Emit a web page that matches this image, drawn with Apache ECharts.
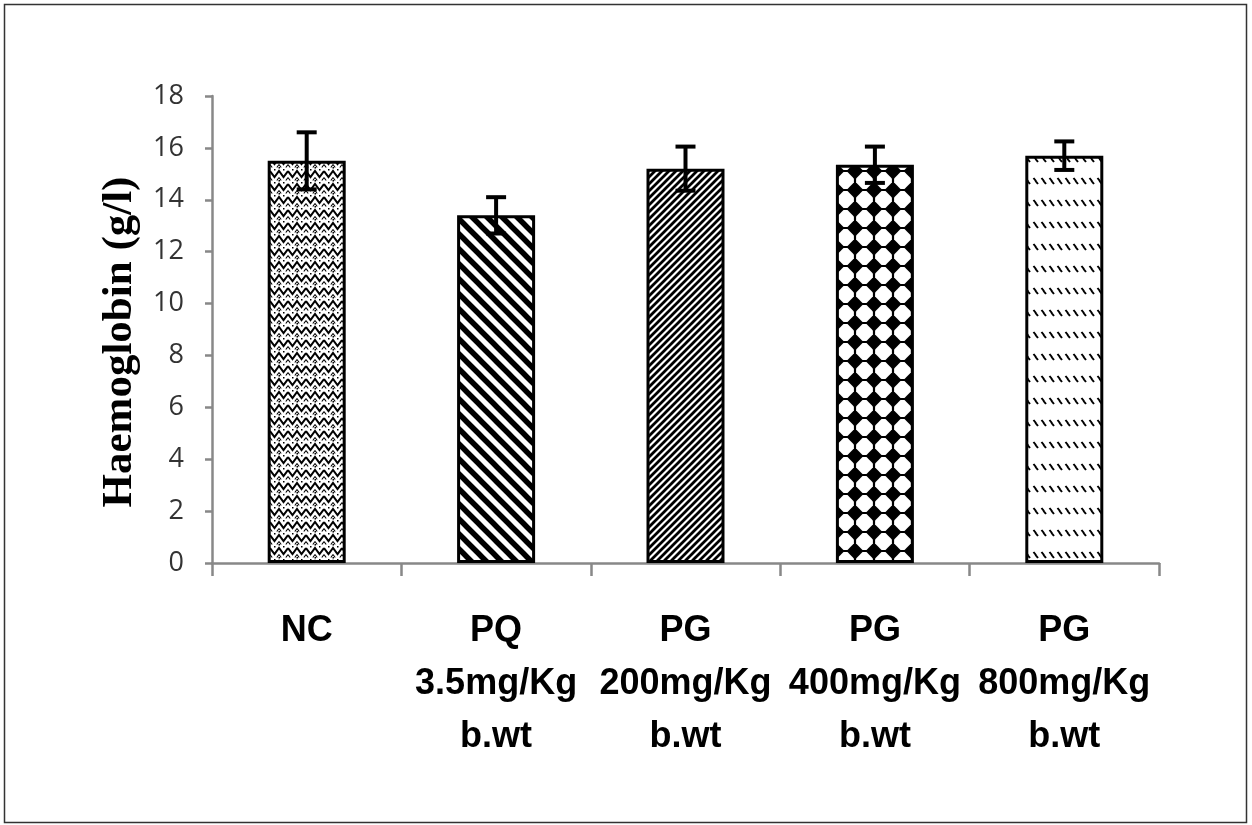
<!DOCTYPE html>
<html>
<head>
<meta charset="utf-8">
<title>Haemoglobin</title>
<script src="https://cdn.jsdelivr.net/npm/echarts@6/dist/echarts.min.js"></script>
<style>
  html, body { margin: 0; padding: 0; background: #fff; }
  #chart { width: 1252px; height: 825px; }
</style>
</head>
<body>
<div id="chart"></div>
<script>
// Haemoglobin per treatment group, mean ± error
const categories = ['NC', 'PQ\n3.5mg/Kg\nb.wt', 'PG\n200mg/Kg\nb.wt', 'PG\n400mg/Kg\nb.wt', 'PG\n800mg/Kg\nb.wt'];
const means = [15.5, 13.4, 15.2, 15.35, 15.7];
const errors = [1.1, 0.7, 0.85, 0.7, 0.55];
const yTicks = [0, 2, 4, 6, 8, 10, 12, 14, 16, 18];
const yTitle = 'Haemoglobin (g/l)';

// Monochrome fill tiles for the bars
function tile(w, h, draw) {
  const c = document.createElement('canvas');
  c.width = w; c.height = h;
  const g = c.getContext('2d');
  g.fillStyle = '#fff';
  g.fillRect(0, 0, w, h);
  g.strokeStyle = '#000';
  g.fillStyle = '#000';
  draw(g, w, h);
  return c;
}

const weave = tile(18, 13, (g, w, h) => {
  g.lineWidth = 2;
  g.beginPath();
  g.moveTo(0, 2); g.lineTo(4.5, 8); g.lineTo(9, 2); g.lineTo(13.5, 8); g.lineTo(18, 2);
  g.stroke();
  g.lineWidth = 1.1;
  g.beginPath();
  g.moveTo(0, 8.5); g.lineTo(2.2, 11.5);
  g.moveTo(9, 8.5); g.lineTo(6.8, 11.5);
  g.moveTo(9, 8.5); g.lineTo(11.2, 11.5);
  g.moveTo(18, 8.5); g.lineTo(15.8, 11.5);
  g.stroke();
  g.fillRect(4, 0, 1.5, 1.5);
  g.fillRect(13, 0, 1.5, 1.5);
  g.fillRect(8.5, 11, 1.5, 1.5);
});

const wideStripes = tile(15, 15, (g, w, h) => {
  g.lineWidth = 5.5;
  g.beginPath();
  for (let k = -1; k <= 1; k++) {
    g.moveTo(k * w - 2, -2); g.lineTo(k * w + w + 2, h + 2);
  }
  g.stroke();
});

const fineStripes = tile(7, 7, (g, w, h) => {
  g.lineWidth = 2.8;
  g.beginPath();
  for (let k = -1; k <= 1; k++) {
    g.moveTo(k * w - 1, h + 1); g.lineTo(k * w + w + 1, -1);
  }
  g.stroke();
});

// white octagons on black, leaving four-pointed black stars between them
const dots = tile(19, 19, (g, w, h) => {
  g.fillStyle = '#000';
  g.fillRect(0, 0, w, h);
  g.fillStyle = '#fff';
  const a = 1.1, b = w - 1.1, c = 6.4;
  g.beginPath();
  g.moveTo(a + c, a); g.lineTo(b - c, a); g.lineTo(b, a + c); g.lineTo(b, b - c);
  g.lineTo(b - c, b); g.lineTo(a + c, b); g.lineTo(a, b - c); g.lineTo(a, a + c);
  g.closePath();
  g.fill();
});

const dashes = tile(8, 22, (g, w, h) => {
  g.lineWidth = 2;
  g.beginPath();
  g.moveTo(1.5, 2); g.lineTo(3.5, 4.5); g.lineTo(4, 5.5); g.lineTo(6, 8);
  g.stroke();
});

const fills = [weave, wideStripes, fineStripes, dots, dashes];

const chart = echarts.init(document.getElementById('chart'), null, { renderer: 'canvas' });

const option = {
  backgroundColor: '#fff',
  animation: false,
  grid: { left: 212, right: 93, top: 96, bottom: 262 },
  graphic: [
    {
      type: 'rect',
      shape: { x: 4.5, y: 4.5, width: 1242, height: 818 },
      style: { fill: 'none', stroke: '#333', lineWidth: 1.5 },
      silent: true
    },
    {
      type: 'text',
      x: 120, y: 342,
      rotation: Math.PI / 2,
      style: {
        text: yTitle,
        font: 'bold 43px "Liberation Serif", "Times New Roman", serif',
        fill: '#000',
        align: 'center',
        verticalAlign: 'middle'
      }
    }
  ],
  xAxis: {
    type: 'category',
    data: categories,
    axisLine: { lineStyle: { color: '#888', width: 2.5 } },
    axisTick: { show: true, length: 13, lineStyle: { color: '#888', width: 2.5 } },
    axisLabel: {
      interval: 0,
      margin: 42,
      color: '#000',
      fontFamily: '"Liberation Sans Narrow", "Liberation Sans", sans-serif',
      fontWeight: 'bold',
      fontSize: 36,
      lineHeight: 53
    }
  },
  yAxis: {
    type: 'value',
    min: yTicks[0],
    max: yTicks[yTicks.length - 1],
    interval: 2,
    axisLine: { show: true, lineStyle: { color: '#888', width: 2.5 } },
    axisTick: { show: true, length: 7, lineStyle: { color: '#888', width: 2.5 } },
    splitLine: { show: false },
    axisLabel: {
      margin: 28,
      color: '#333',
      fontFamily: '"Open Sans", "Noto Sans", sans-serif',
      fontSize: 27
    }
  },
  series: [
    {
      type: 'bar',
      barWidth: 78,
      data: means.map((v, i) => ({
        value: v,
        itemStyle: {
          color: { image: fills[i], repeat: 'repeat' },
          borderColor: '#000',
          borderWidth: 3
        }
      })),
      z: 2
    },
    {
      type: 'custom',
      z: 3,
      data: means.map((v, i) => [i, v - errors[i], v + errors[i]]),
      renderItem: function (params, api) {
        const lo = api.coord([api.value(0), api.value(1)]);
        const hi = api.coord([api.value(0), api.value(2)]);
        const half = 10;
        const style = { stroke: '#000', lineWidth: 4, fill: 'none' };
        return {
          type: 'group',
          children: [
            { type: 'line', shape: { x1: hi[0], y1: hi[1], x2: lo[0], y2: lo[1] }, style: style },
            { type: 'line', shape: { x1: hi[0] - half, y1: hi[1], x2: hi[0] + half, y2: hi[1] }, style: style },
            { type: 'line', shape: { x1: lo[0] - half, y1: lo[1], x2: lo[0] + half, y2: lo[1] }, style: style }
          ]
        };
      }
    }
  ]
};

chart.setOption(option);
</script>
</body>
</html>
